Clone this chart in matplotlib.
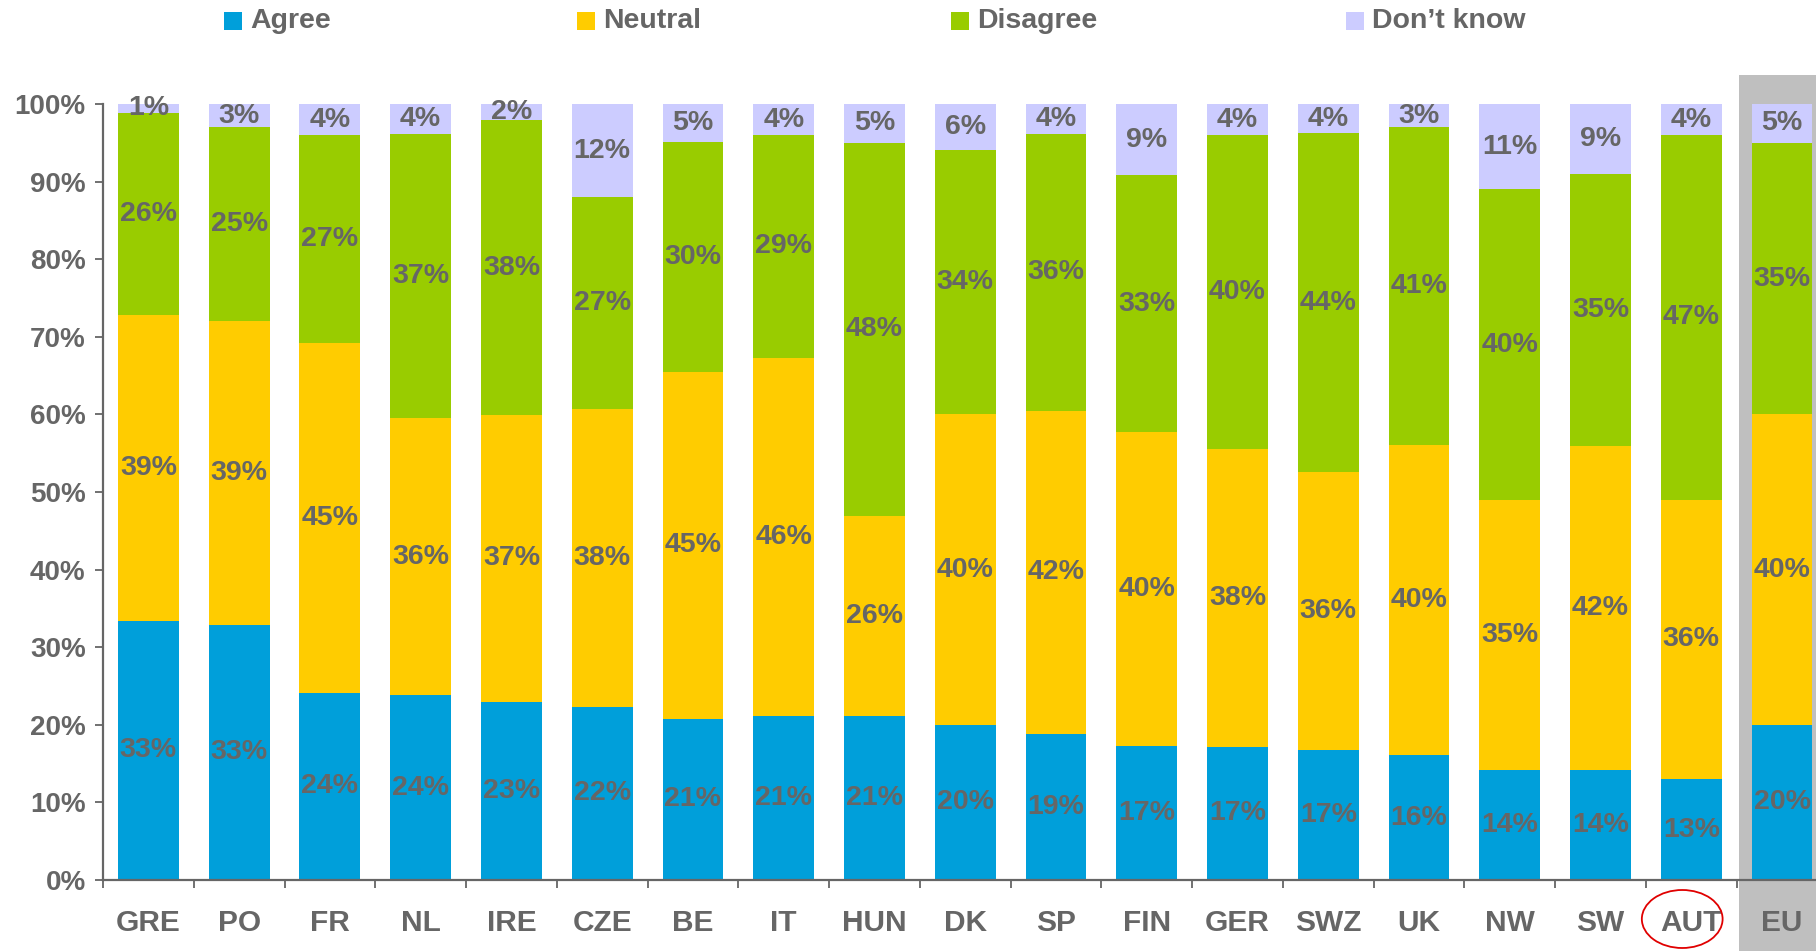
import matplotlib
matplotlib.use("Agg")
import matplotlib.pyplot as plt
from matplotlib import font_manager
from matplotlib.patches import Rectangle, Ellipse
from matplotlib.transforms import blended_transform_factory
import numpy as np

countries = ["GRE", "PO", "FR", "NL", "IRE", "CZE", "BE", "IT", "HUN", "DK",
             "SP", "FIN", "GER", "SWZ", "UK", "NW", "SW", "AUT", "EU"]
agree    = [33.4, 32.9, 24.1, 23.8, 23.0, 22.3, 20.8, 21.1, 21.1, 20.0,
            18.8, 17.3, 17.2, 16.7, 16.1, 14.2, 14.2, 13.0, 20.0]
neutral  = [39.4, 39.1, 45.1, 35.7, 36.9, 38.4, 44.7, 46.2, 25.8, 40.0,
            41.7, 40.4, 38.4, 35.9, 39.9, 34.8, 41.7, 36.0, 40.0]
disagree = [26.1, 25.0, 26.8, 36.6, 38.0, 27.3, 29.6, 28.7, 48.1, 34.1,
            35.6, 33.1, 40.4, 43.6, 41.0, 40.0, 35.1, 47.0, 35.0]
dontknow = [1.1, 3.0, 4.0, 3.9, 2.1, 12.0, 4.9, 4.0, 5.0, 5.9,
            3.9, 9.2, 4.0, 3.8, 3.0, 11.0, 9.0, 4.0, 5.0]
series_names = ["Agree", "Neutral", "Disagree", "Don\u2019t know"]
colors = ["#009FDA", "#FFCC00", "#99CC00", "#CCCCFF"]
yticks = [0, 10, 20, 30, 40, 50, 60, 70, 80, 90, 100]

names = {f.name for f in font_manager.fontManager.ttflist}
fam = ["Liberation Sans Narrow"] if "Liberation Sans Narrow" in names else []
fam += ["Liberation Sans", "DejaVu Sans"]
plt.rcParams["font.family"] = fam
plt.rcParams["font.weight"] = "bold"

TXT = "#666666"
W, H = 1816, 951
fig = plt.figure(figsize=(W / 100, H / 100), dpi=100)
ax = fig.add_axes([103 / W, 1 - 880 / H, (W - 103) / W, (880 - 104) / H])

x = np.arange(len(countries))
data = [agree, neutral, disagree, dontknow]
bottom = np.zeros(len(countries))
for vals, col, name in zip(data, colors, series_names):
    v = np.array(vals)
    ax.bar(x, v, bottom=bottom, width=0.67, color=col, label=name, zorder=2)
    for xi, b, h in zip(x, bottom, v):
        ax.text(xi, b + h / 2, f"{int(h + 0.5)}%", ha="center", va="center",
                fontsize=20.5, color=TXT, fontweight="bold", zorder=3)
    bottom += v

ax.set_xlim(-0.496, 18.374)
ax.set_ylim(0, 100)

# grey highlight behind EU
trans = blended_transform_factory(ax.transData, fig.transFigure)
ax.add_patch(Rectangle((17.53, 0), 2.0, 1 - 75 / H, transform=trans,
                       facecolor="#BFBFBF", edgecolor="none", zorder=0, clip_on=False))

# red ellipse around AUT
ax.add_patch(Ellipse((16.9, 1 - 919 / H), 0.89, 58 / H, transform=trans,
                     facecolor="none", edgecolor="#E00000", lw=1.3, zorder=5, clip_on=False))

for s in ["top", "right"]:
    ax.spines[s].set_visible(False)
for s in ["left", "bottom"]:
    ax.spines[s].set_color(TXT)
    ax.spines[s].set_linewidth(1.6)
ax.spines["left"].set_bounds(0, 100)

ax.set_yticks(yticks)
ax.set_yticklabels([f"{t}%" for t in yticks])
ax.tick_params(axis="y", direction="out", length=5.5, width=1.3, color=TXT,
               labelsize=20, labelcolor=TXT, pad=7)
ax.set_xticks(x)
ax.set_xticklabels(countries)
ax.set_xticks(np.arange(-0.5, 18, 1.0), minor=True)
ax.tick_params(axis="x", which="major", length=0, labelsize=21.5, labelcolor=TXT, pad=21)
ax.tick_params(axis="x", which="minor", direction="out", length=5.5, width=1.3, color=TXT)
for lab in ax.get_xticklabels() + ax.get_yticklabels():
    lab.set_fontweight("bold")

# legend (manual)
leg_x = [224, 577, 951, 1346]
for lx, col, name in zip(leg_x, colors, series_names):
    fig.patches.append(Rectangle((lx / W, 1 - 30 / H), 18 / W, 18 / H,
                                 transform=fig.transFigure, facecolor=col,
                                 edgecolor="none"))
    fig.text((lx + 26) / W, 1 - 21 / H, name, ha="left", va="center",
             fontsize=20.5, color=TXT, fontweight="bold")

fig.savefig("out.png", dpi=100)
